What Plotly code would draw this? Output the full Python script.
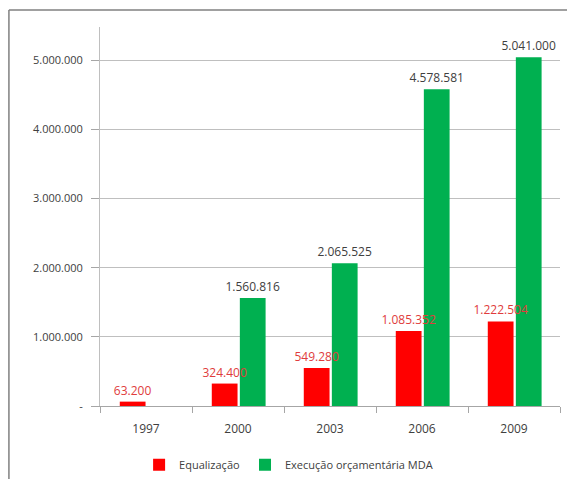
import plotly.graph_objects as go

years = ["1997", "2000", "2003", "2006", "2009"]
equalizacao = [63200, 324400, 549280, 1085352, 1222504]
execucao = [None, 1560816, 2065525, 4578581, 5041000]
tick_vals = [0, 1000000, 2000000, 3000000, 4000000, 5000000]
tick_text = ["-", "1.000.000", "2.000.000", "3.000.000", "4.000.000", "5.000.000"]


def fmt(v):
    return "" if v is None else f"{v:,}".replace(",", ".")


FONT = "Open Sans, Lato, sans-serif"

fig = go.Figure()
# green drawn first so the red labels sit on top of the green bars
fig.add_trace(go.Bar(
    x=years, y=execucao, name="Execução orçamentária MDA",
    offset=0.02, width=0.28,
    marker=dict(color="#00B050", line=dict(width=0)),
    text=[fmt(v) for v in execucao], textposition="outside", constraintext="none",
    textfont=dict(color="#404040", size=12, family=FONT), cliponaxis=False,
))
fig.add_trace(go.Bar(
    x=years, y=equalizacao, name="Equalização",
    offset=-0.285, width=0.28,
    marker=dict(color="#FF0000", line=dict(width=0)),
    text=[fmt(v) for v in equalizacao], textposition="outside", constraintext="none",
    textfont=dict(color="#E03C3C", size=12, family=FONT), cliponaxis=False,
))

# page body has an 8px margin, so the figure starts at (8, 8)
fig.update_layout(
    width=567, height=471,
    margin=dict(l=92, r=15, t=19, b=73, autoexpand=False),
    paper_bgcolor="white", plot_bgcolor="white",
    barmode="overlay",
    font=dict(family=FONT, color="#404040", size=11),
    showlegend=True,
    legend=dict(orientation="h", x=0.41, xanchor="center", y=-0.155, yanchor="middle",
                traceorder="reversed",
                font=dict(size=11, color="#404040", family=FONT),
                itemwidth=30, tracegroupgap=0),
    xaxis=dict(showline=True, linecolor="#A6A6A6", linewidth=1,
               ticks="outside", tickson="boundaries", ticklen=6, tickcolor="#A6A6A6",
               ticklabelstandoff=12,
               tickfont=dict(size=12, color="#404040"), showgrid=False),
    yaxis=dict(range=[0, 5480000], tickvals=tick_vals, ticktext=tick_text,
               showline=True, linecolor="#BFBFBF", linewidth=1,
               showgrid=True, gridcolor="#BFBFBF", gridwidth=1,
               ticks="outside", ticklen=8, tickcolor="#A6A6A6",
               ticklabelstandoff=6,
               tickfont=dict(size=11, color="#404040"), zeroline=False),
    shapes=[
        dict(type="line", xref="paper", yref="paper", x0=-0.198, x1=-0.198, y0=1.0449, y1=-0.2,
             line=dict(color="#808080", width=1.5)),
        dict(type="line", xref="paper", yref="paper", x0=-0.198, x1=1.04, y0=1.0449, y1=1.0449,
             line=dict(color="#808080", width=1.5)),
    ],
)

fig.write_html("out.html")
